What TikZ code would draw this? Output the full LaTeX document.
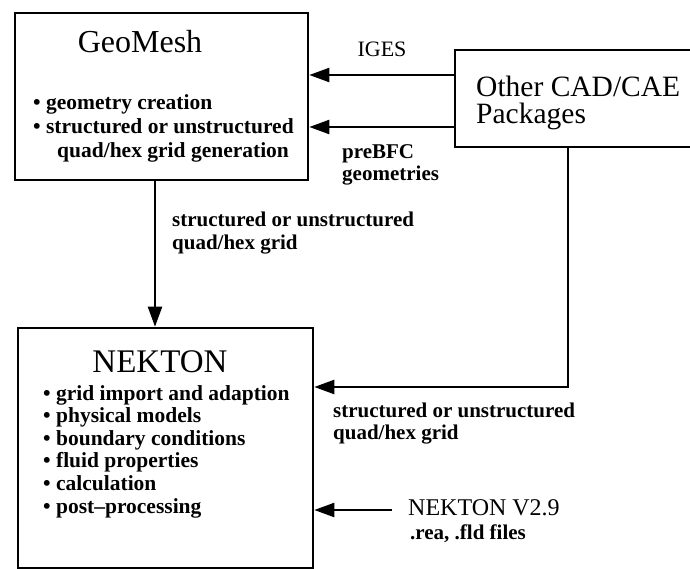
\documentclass[tikz,border=0pt]{standalone}
\usepackage{fontspec}
\setmainfont{Liberation Serif}
\usetikzlibrary{arrows.meta}
\tikzset{
  box/.style={draw, line width=2.6pt, inner sep=0pt, rectangle},
  arr/.style={line width=2.3pt, -{Triangle[length=20pt,width=14pt]}},
  title/.style={anchor=base, inner sep=0pt, font=\fontsize{32}{36}\selectfont},
  item/.style={anchor=base west, inner sep=0pt, font=\bfseries\fontsize{21.5}{24}\selectfont},
  lbl/.style={anchor=base west, inner sep=0pt, font=\bfseries\fontsize{21}{24}\selectfont},
}
\begin{document}
\begin{tikzpicture}[x=1pt,y=-1pt]
\useasboundingbox (0,0) rectangle (690,569);
\clip (0,0) rectangle (690,569);
% boxes
\node[box, minimum width=293pt, minimum height=167pt] (geo) at (161.5,96.5) {};
\node[box, minimum width=260pt, minimum height=97pt] (cad) at (585,98.5) {};
\node[box, minimum width=295pt, minimum height=240pt] (nek) at (165.5,448) {};
% GeoMesh text
\node[title] (geot) at (140,53) {GeoMesh};
\node[item] (g1) at (33,110) {\textbullet\ geometry creation};
\node[item] (g2) at (33,134) {\textbullet\ structured or unstructured};
\node[item] (g3) at (57,158) {quad/hex grid generation};
% CAD text
\node[anchor=base west, inner sep=0pt, font=\fontsize{29.5}{32}\selectfont] (c1) at (476,97) {Other CAD/CAE};
\node[anchor=base west, inner sep=0pt, font=\fontsize{29.5}{32}\selectfont] (c2) at (476,124) {Packages};
% NEKTON text
\node[title, font=\fontsize{33}{36}\selectfont] (nekt) at (160,372) {NEKTON};
\node[item] (n1) at (43,400) {\textbullet\ grid import and adaption};
\node[item] (n2) at (43,422.6) {\textbullet\ physical models};
\node[item] (n3) at (43,445.2) {\textbullet\ boundary conditions};
\node[item] (n4) at (43,467.8) {\textbullet\ fluid properties};
\node[item] (n5) at (43,490.4) {\textbullet\ calculation};
\node[item] (n6) at (43,513) {\textbullet\ post--processing};
% helper coordinates
\coordinate (yi) at (0,75);
\coordinate (yp) at (0,127);
\coordinate (xv) at (155,0);
\coordinate (corner) at (568,387);
\coordinate (vstart) at (392,510);
% connectors
\draw[arr] (cad.west |- yi) -- (geo.east |- yi);
\draw[arr] (cad.west |- yp) -- (geo.east |- yp);
\draw[arr] (geo.south -| xv) -- (nek.north -| xv);
\draw[arr] (cad.south -| corner) -- (corner) -- (nek.east |- corner);
\draw[arr] (vstart) -- (nek.east |- vstart);
% labels
\node[anchor=base, inner sep=0pt, font=\fontsize{22}{24}\selectfont] (iges) at (382,57) {IGES};
\node[lbl] (pb1) at (342,159) {preBFC};
\node[lbl] (pb2) at (342,181) {geometries};
\node[lbl] (s1) at (172,227) {structured or unstructured};
\node[lbl] (s2) at (172,249) {quad/hex grid};
\node[lbl] (t1) at (333,417) {structured or unstructured};
\node[lbl] (t2) at (333,439) {quad/hex grid};
\node[anchor=base west, inner sep=0pt, font=\fontsize{24}{28}\selectfont] (v1) at (408,515) {NEKTON V2.9};
\node[lbl] (v2) at (410,539) {.rea, .fld files};
\end{tikzpicture}
\end{document}
